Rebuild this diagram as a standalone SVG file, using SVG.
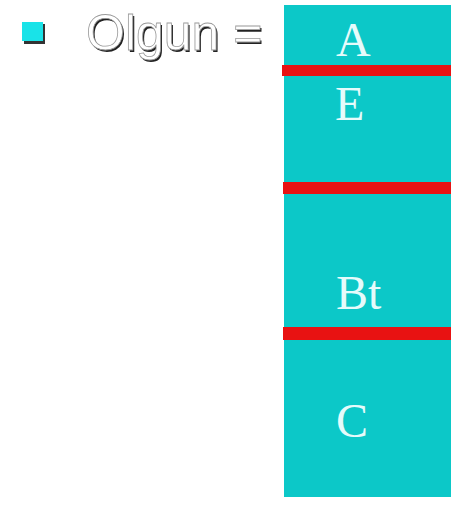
<svg xmlns="http://www.w3.org/2000/svg" width="451" height="505" viewBox="0 0 451 505">
<style>
.hz{font-family:"Liberation Serif","Times New Roman",serif;font-size:48px;fill:#e6fbfb}
.band{fill:#e81212}
.ttl{font-family:"Liberation Sans",Arial,sans-serif;font-size:50px}
</style>
<rect width="451" height="505" fill="#ffffff"/>
<g id="bullet">
<rect x="24" y="24" width="21" height="20" fill="#333333"/>
<rect x="22" y="22" width="21" height="19" fill="#19e3e8"/>
</g>
<g id="title">
<text class="ttl" x="87.5" y="51.5" fill="#222222">Olgun =</text>
<text class="ttl" x="86" y="50" fill="#ffffff" stroke="#9a9a9a" stroke-width="0.8">Olgun =</text>
</g>
<g id="column">
<rect x="284" y="5" width="167" height="492" fill="#0cc8c8"/>
</g>
<g id="layer-A"><text class="hz" x="336" y="56">A</text></g>
<g id="layer-E"><text class="hz" x="335" y="120">E</text></g>
<g id="layer-Bt"><text class="hz" x="336" y="309">Bt</text></g>
<g id="layer-C"><text class="hz" x="336" y="437">C</text></g>
<g id="connectors">
<rect class="band" x="282" y="65" width="169" height="11"/>
<rect class="band" x="283" y="182" width="168" height="12"/>
<rect class="band" x="283" y="327" width="168" height="13"/>
</g>
</svg>
